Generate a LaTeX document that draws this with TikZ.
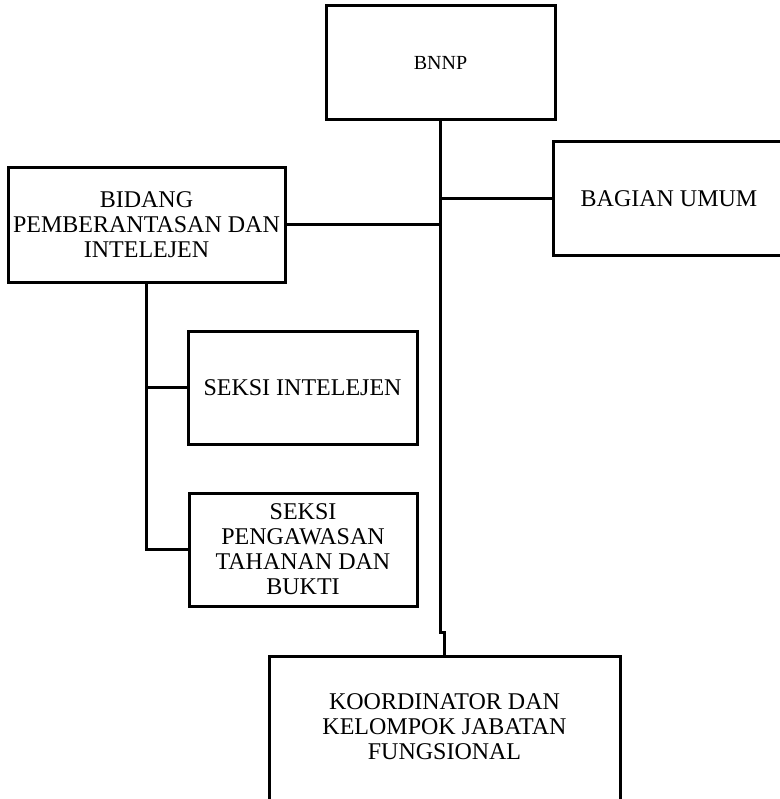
\documentclass[tikz,border=0pt]{standalone}
\usepackage{fontspec}
\setmainfont{Liberation Serif}
\usepackage{tikz}

\begin{document}
\begin{tikzpicture}[x=1pt,y=-1pt,
    box/.style={draw, line width=3pt, align=center, inner sep=0pt,
        font=\fontsize{24}{25}\selectfont},
    link/.style={line width=3pt}]

\useasboundingbox (0,0) rectangle (779,799);

% Boxes
\node[box, minimum width=229pt, minimum height=114pt,
    font=\fontsize{20}{21}\selectfont] (bnnp) at (440.5,63) {BNNP};

\node[box, minimum width=232pt, minimum height=114pt] (bagian) at (669,199)
    {BAGIAN UMUM};

\node[box, minimum width=277pt, minimum height=114pt] (bidang) at (146.5,225)
    {BIDANG\\PEMBERANTASAN DAN\\INTELEJEN};

\node[box, minimum width=229pt, minimum height=113pt] (intel) at (302.5,387.5)
    {SEKSI INTELEJEN};

\node[box, minimum width=228pt, minimum height=113pt] (tahanan) at (303,549.5)
    {SEKSI\\PENGAWASAN\\TAHANAN DAN\\BUKTI};

\node[box, anchor=north, minimum width=351pt, inner ysep=37pt, text depth=110pt]
    (koor) at (444.5,655)
    {KOORDINATOR DAN\\KELOMPOK JABATAN\\FUNGSIONAL};

% Connectors
\coordinate (jog) at (440.5,632);

\draw[link] (bnnp.south) -- (jog) -| (koor.north);
\draw[link] (bagian.west) -- (bagian.west -| bnnp.south);
\draw[link] (bidang.east) -- (bidang.east -| bnnp.south);

\draw[link] (bidang.south) |- (tahanan.west);
\draw[link] (intel.west) -- (intel.west -| bidang.south);

\end{tikzpicture}
\end{document}
